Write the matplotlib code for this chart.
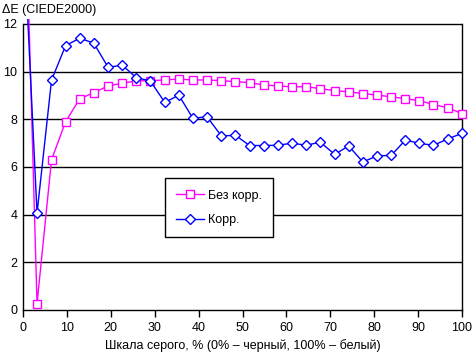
import matplotlib
matplotlib.use('Agg')
import matplotlib.pyplot as plt

plt.rcParams['font.family'] = ['Liberation Sans', 'DejaVu Sans']

# x - gray level, % (32 steps)
gray = [0, 3.2, 6.5, 9.7, 12.9, 16.1, 19.4, 22.6, 25.8, 29.0, 32.3, 35.5, 38.7, 41.9, 45.2, 48.4,
        51.6, 54.8, 58.1, 61.3, 64.5, 67.7, 71.0, 74.2, 77.4, 80.6, 83.9, 87.1, 90.3, 93.5, 96.8, 100]
# dE without correction
no_corr = [21.0, 0.26, 6.3, 7.9, 8.85, 9.12, 9.4, 9.51, 9.61, 9.62, 9.65, 9.69, 9.65, 9.65, 9.62, 9.58,
           9.54, 9.44, 9.40, 9.36, 9.37, 9.29, 9.2, 9.15, 9.08, 9.02, 8.94, 8.87, 8.78, 8.62, 8.48, 8.24]
# dE with correction
corr = [16.4, 4.06, 9.64, 11.09, 11.4, 11.2, 10.18, 10.27, 9.75, 9.61, 8.71, 9.01, 8.04, 8.11, 7.30, 7.33,
        6.90, 6.90, 6.91, 7.0, 6.91, 7.04, 6.53, 6.88, 6.21, 6.46, 6.49, 7.13, 6.99, 6.91, 7.18, 7.41]

labels = ['Без корр.', 'Корр.']
xticks = list(range(0, 101, 10))
yticks = list(range(0, 13, 2))

W, H = 472, 353
fig = plt.figure(figsize=(W / 100, H / 100), dpi=100)
# axes a bit larger than the 0..100 x 0..12 frame so markers at the edge are not cut
ax = fig.add_axes([16.4 / W, (H - 317.1) / H, 452.2 / W, 297.9 / H])

ax.plot(gray, no_corr, color='#FF00FF', lw=1, marker='s', ms=6, mfc='white', mec='#FF00FF', mew=1,
        label=labels[0], zorder=3)
ax.plot(gray, corr, color='#0000FF', lw=1, marker='D', ms=5, mfc='white', mec='#0000FF', mew=1,
        label=labels[1], zorder=4)

ax.set_xlim(-1.5, 101.5)
ax.set_ylim(-0.3, 12.2)
ax.set_xticks(xticks)
ax.set_yticks(yticks)
ax.hlines(yticks[1:], 0, 100, color='black', lw=1, zorder=1)

ax.spines['top'].set_visible(False)
ax.spines['bottom'].set_position(('data', 0))
ax.spines['bottom'].set_bounds(0, 100)
ax.spines['left'].set_position(('data', 0))
ax.spines['left'].set_bounds(0, 12)
ax.spines['right'].set_position(('data', 100))
ax.spines['right'].set_bounds(0, 12)
for s in ['left', 'right', 'bottom']:
    ax.spines[s].set_linewidth(1)

ax.tick_params(axis='x', direction='out', length=5, width=1, labelsize=9, pad=4)
ax.tick_params(axis='y', length=0, labelsize=9, pad=4)

ax.set_xlabel('Шкала серого, % (0% – черный, 100% – белый)', fontsize=9, labelpad=3)
fig.text(2 / W, 1 - 10 / H, 'ΔE (CIEDE2000)', fontsize=9, va='center', ha='left')

leg = ax.legend(loc='lower left', bbox_to_anchor=(0.329, 0.268), fontsize=9, fancybox=False,
                framealpha=1, edgecolor='black', handlelength=2.2, borderpad=0.9, labelspacing=1.0,
                handletextpad=0.3, borderaxespad=0)
leg.get_frame().set_linewidth(1)

fig.savefig('out.png', dpi=100)
